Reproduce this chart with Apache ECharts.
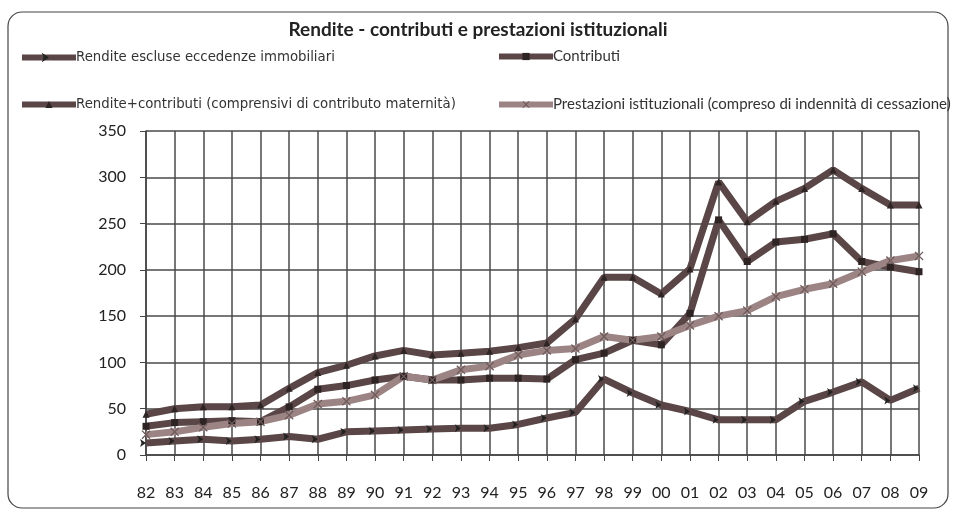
<!DOCTYPE html>
<html>
<head>
<meta charset="utf-8">
<script src="https://cdn.jsdelivr.net/npm/echarts@6/dist/echarts.min.js"></script>
<style>
  html, body { margin: 0; padding: 0; background: #fff; }
  #chart { width: 956px; height: 513px; }
</style>
</head>
<body>
<div id="chart"></div>
<script>
// anni (asse x)
var years = ["82","83","84","85","86","87","88","89","90","91","92","93","94","95",
             "96","97","98","99","00","01","02","03","04","05","06","07","08","09"];

// valori
var rendite = [13,15,17,15,17,20,17,25,26,27,28,29,29,33,40,46,82,67,54,47,38,38,38,58,68,79,59,72];
var contributi = [31,35,36,37,36,52,71,75,81,85,81,81,83,83,82,103,110,124,119,153,254,209,230,233,239,209,203,198];
var renditeContributi = [44,50,52,52,54,72,89,97,107,113,108,110,112,116,121,147,192,192,174,201,295,252,274,288,308,288,270,270];
var prestazioni = [22,25,30,34,36,43,55,58,65,85,81,92,96,108,113,115,128,124,128,140,150,156,171,179,185,198,210,215];

var yTicks = [0, 50, 100, 150, 200, 250, 300, 350];

var FONT = "Lato";
var dark = "#5a4646";
var light = "#9c8484";
var xPath = "path://M0,1L1,0L5,4L9,0L10,1L6,5L10,9L9,10L5,6L1,10L0,9L4,5Z";

var myChart = echarts.init(document.getElementById("chart"));

function serie(name, data, color, symbol, symColor, size, rot) {
  return {
    name: name,
    type: "line",
    data: data,
    symbol: symbol,
    symbolSize: size,
    symbolRotate: rot || 0,
    showAllSymbol: true,
    lineStyle: { color: color, width: 7 },
    itemStyle: { color: symColor },
    emphasis: { disabled: true }
  };
}

myChart.setOption({
  animation: false,
  textStyle: { fontFamily: FONT },
  title: {
    text: "Rendite - contributi e prestazioni istituzionali",
    left: "center",
    top: 15,
    textStyle: { fontFamily: FONT, fontSize: 19, fontWeight: "bold", color: "#222" }
  },
  graphic: [{
    type: "rect",
    shape: { x: 8, y: 12, width: 940, height: 496, r: 14 },
    style: { fill: "none", stroke: "#444", lineWidth: 1.2 },
    silent: true
  }],
  legend: [{
    orient: "vertical",
    left: 14,
    top: 46,
    itemGap: 34,
    itemWidth: 54,
    itemHeight: 9,
    lineStyle: { width: 6 },
    data: ["Rendite escluse eccedenze immobiliari",
           "Rendite+contributi (comprensivi di contributo maternità)"],
    textStyle: { fontFamily: "DejaVu Sans", fontSize: 13.3, color: "#333", padding: [0, 0, 0, -5] }
  }, {
    orient: "vertical",
    left: 491,
    top: 44,
    itemGap: 33,
    itemWidth: 54,
    itemHeight: 9,
    lineStyle: { width: 6 },
    data: ["Contributi",
           "Prestazioni istituzionali (compreso di indennità di cessazione)"],
    textStyle: { fontFamily: FONT, fontSize: 15, color: "#333", padding: [0, 0, 0, -5] }
  }],
  grid: { left: 146, right: 37, top: 131, bottom: 58 },
  xAxis: {
    type: "category",
    data: years,
    boundaryGap: false,
    axisLine: { lineStyle: { color: "#444", width: 1.5 } },
    axisTick: { show: true, length: 6, lineStyle: { color: "#444" } },
    axisLabel: { fontFamily: FONT, fontSize: 16, color: "#222", margin: 30, interval: 0 },
    splitLine: { show: true, lineStyle: { color: "#4a4a4a", width: 1.5 } }
  },
  yAxis: {
    type: "value",
    min: 0,
    max: 350,
    interval: 50,
    axisLine: { show: true, lineStyle: { color: "#444", width: 1.5 } },
    axisTick: { show: true, length: 6, lineStyle: { color: "#444" } },
    axisLabel: { fontFamily: FONT, fontSize: 16, color: "#222", margin: 20,
                 formatter: function (v) { return yTicks.indexOf(v) >= 0 ? v : ""; } },
    splitLine: { show: true, lineStyle: { color: "#4a4a4a", width: 1.5 } }
  },
  series: [
    serie("Rendite escluse eccedenze immobiliari", rendite, dark, "arrow", "#222", 6, -90),
    serie("Contributi", contributi, dark, "rect", "#2e2424", 7),
    serie("Rendite+contributi (comprensivi di contributo maternità)", renditeContributi, dark, "triangle", "#2e2424", 7),
    serie("Prestazioni istituzionali (compreso di indennità di cessazione)", prestazioni, light, xPath, "#6e5a5a", 9)
  ]
});
</script>
</body>
</html>
